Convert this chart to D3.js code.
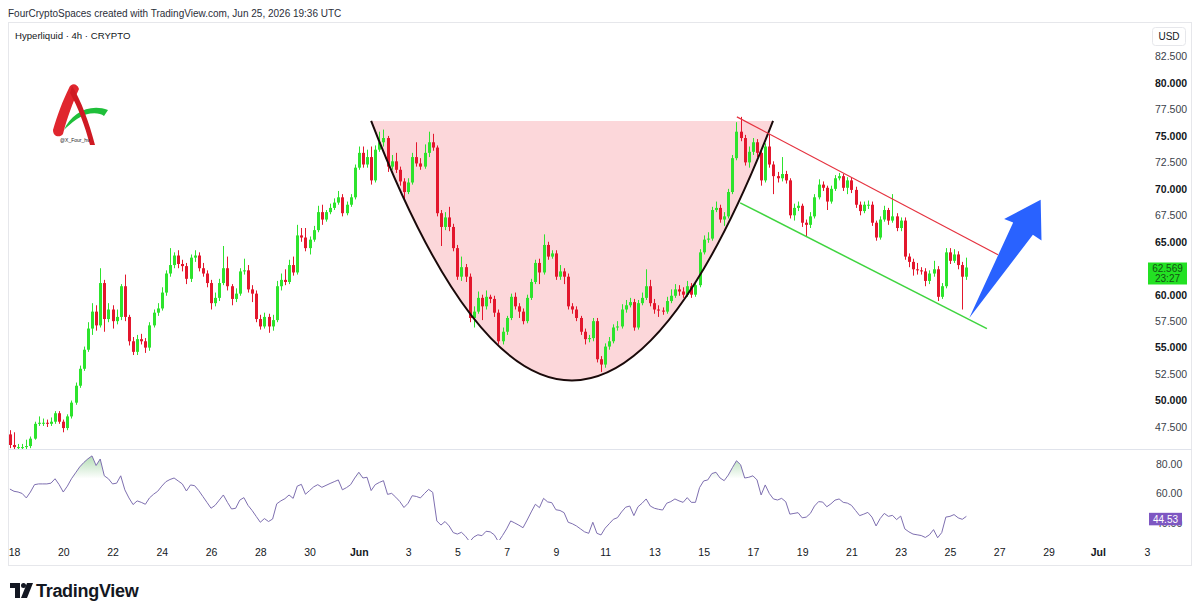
<!DOCTYPE html>
<html>
<head>
<meta charset="utf-8">
<script src="https://cdn.jsdelivr.net/npm/d3@7"></script>
<style>
  body { margin: 0; background: #fff; }
  svg { display: block; font-family: "Liberation Sans", Arial, sans-serif; }
</style>
</head>
<body>
<div id="chart"></div>
<script>
// 4h candles, first bar May 17 20:00 UTC, open = previous close
var firstBar = "2026-05-17T20:00:00Z";
var firstOpen = 46.8;

var closes = [
  45.8,45.6,45.6,45.6,45.7,46.4,47.8,47.9,47.9,47.8,
  48.0,48.8,48.0,47.4,48.5,49.8,51.4,53.0,54.8,56.8,
  58.4,57.1,61.1,57.7,58.6,57.5,57.9,60.8,57.9,55.6,
  54.6,55.8,55.6,55.0,57.1,58.3,58.7,60.2,62.0,62.8,
  63.7,62.9,62.7,61.5,63.5,63.7,62.5,62.0,61.1,59.2,
  59.7,61.1,62.5,60.8,59.6,60.1,62.2,62.3,60.5,60.1,
  57.7,57.0,57.9,57.0,57.6,60.8,61.4,61.2,62.8,62.1,
  65.6,65.4,64.4,65.2,66.1,67.8,67.1,67.8,68.2,68.7,
  69.2,67.7,68.5,69.2,72.0,73.4,72.3,73.0,70.8,73.7,
  74.4,74.8,72.1,72.6,71.8,70.7,69.7,70.6,73.0,72.4,
  72.1,73.4,74.4,73.9,67.7,66.4,67.3,66.4,64.4,61.7,
  62.6,61.7,57.8,58.4,59.7,58.9,59.8,59.6,58.3,55.6,
  56.5,57.8,59.8,58.9,58.4,57.5,59.7,61.2,63.0,62.1,
  64.7,63.6,63.9,61.7,62.2,61.7,58.9,58.6,57.8,56.5,
  55.8,55.9,57.5,53.9,53.4,55.1,55.6,56.9,57.0,58.6,
  59.0,59.3,56.9,59.2,59.7,60.8,59.2,58.6,58.5,58.4,
  59.4,59.9,60.5,60.3,60.0,60.8,60.0,60.9,64.0,65.2,
  65.3,68.0,68.2,67.1,67.4,69.7,72.9,75.4,74.8,72.5,
  73.5,74.4,73.4,70.8,74.0,72.3,71.2,71.0,71.4,70.8,
  67.5,68.2,68.4,66.8,66.6,67.4,69.2,70.4,70.1,68.8,
  70.0,71.0,71.2,70.1,70.8,69.9,68.5,67.9,68.5,68.5,
  66.8,65.4,67.1,68.0,67.0,67.4,66.3,67.0,63.6,63.1,
  62.4,62.3,62.2,61.3,62.0,62.4,59.8,60.8,64.0,63.2,
  63.8,62.8,61.7,62.569
];

var highs = [
  47.2,47.0,45.9,45.9,46.3,46.6,48.0,48.5,48.3,48.2,
  48.4,49.0,49.0,48.2,48.7,50.0,51.7,53.3,55.1,57.4,
  59.2,59.0,62.5,61.4,59.2,59.0,58.6,61.0,61.9,58.1,
  56.0,56.2,56.3,55.9,57.4,58.6,59.2,60.7,62.3,64.4,
  64.0,64.2,63.3,63.0,63.8,64.2,64.0,63.0,62.3,61.4,
  60.2,61.5,64.6,63.6,61.0,60.6,62.5,63.4,62.8,60.9,
  60.4,58.1,58.3,58.2,58.1,61.3,62.0,62.4,63.3,63.6,
  66.6,66.3,66.3,65.5,66.5,68.4,68.5,68.0,68.6,69.1,
  69.8,69.5,68.8,69.5,72.3,74.0,74.0,73.7,74.0,74.1,
  75.4,75.6,75.0,73.2,73.4,72.1,71.0,71.0,73.4,74.4,
  72.9,74.2,75.4,75.2,74.1,68.0,67.8,68.3,66.7,64.7,
  63.6,62.9,62.0,58.9,60.3,60.0,60.4,60.0,59.9,58.6,
  56.9,58.0,60.1,60.2,59.2,58.7,60.0,61.5,63.3,63.4,
  65.7,65.0,64.2,64.2,62.8,62.5,62.0,59.2,58.9,58.0,
  56.8,56.2,57.8,57.8,54.2,55.4,56.0,57.2,57.5,59.1,
  59.5,59.7,59.6,59.5,60.2,62.4,61.4,59.6,59.0,58.8,
  59.8,60.5,61.0,60.9,60.7,61.3,61.1,61.2,64.3,65.6,
  65.9,68.3,68.8,68.5,67.8,70.0,73.2,76.3,76.8,75.1,
  74.0,74.8,74.7,73.7,74.3,75.2,72.6,71.6,73.0,71.7,
  71.0,68.6,68.8,68.6,67.1,67.8,69.5,70.9,70.7,70.3,
  70.3,71.3,71.5,71.4,71.1,71.1,70.2,68.8,68.8,68.9,
  68.8,67.0,67.4,68.4,68.2,69.5,67.7,67.3,67.3,63.9,
  63.4,63.0,62.6,62.5,62.3,63.2,62.7,61.1,64.4,64.4,
  64.3,64.1,63.1,63.5
];

var lows = [
  45.5,45.4,45.4,45.4,45.4,45.5,46.3,47.6,47.6,47.5,
  47.6,47.8,47.8,47.0,47.2,48.3,49.6,51.2,52.8,54.6,
  56.2,56.6,56.9,56.5,57.4,56.8,57.2,57.6,57.5,55.2,
  54.3,54.3,55.3,54.5,54.7,56.9,58.0,58.5,59.9,61.7,
  62.5,62.5,62.2,61.0,61.2,63.1,62.2,61.7,60.7,58.6,
  58.9,59.4,60.9,60.4,59.0,59.3,59.9,61.9,60.2,59.3,
  57.4,56.7,56.8,56.4,56.6,57.4,60.4,60.9,61.0,61.8,
  61.9,65.0,64.1,63.8,65.0,65.9,66.6,66.9,67.6,68.0,
  68.5,67.4,67.5,68.3,69.0,71.8,72.0,72.0,70.4,70.6,
  73.5,74.0,71.6,71.8,71.5,70.3,68.9,69.5,70.4,72.1,
  71.8,71.9,73.0,73.6,67.4,64.6,66.1,66.0,64.1,61.4,
  61.3,61.2,57.4,56.9,58.2,57.6,58.6,59.2,57.9,55.3,
  55.3,56.2,57.6,58.6,57.8,57.2,57.3,59.5,61.0,61.0,
  61.9,63.3,63.4,61.4,61.4,61.0,58.6,58.2,57.5,56.2,
  55.3,55.5,55.6,53.6,52.7,53.1,54.8,55.4,56.6,56.8,
  58.3,58.8,56.6,56.7,59.0,59.5,58.9,58.2,57.9,58.1,
  58.2,59.2,59.7,59.9,59.7,59.8,59.7,59.8,60.7,63.8,
  64.9,65.1,67.8,66.8,66.5,67.2,69.5,72.7,74.5,72.2,
  72.0,73.2,73.0,70.3,70.6,72.0,69.5,70.6,70.7,70.5,
  67.2,67.0,67.9,66.4,65.5,66.3,67.2,69.0,69.8,68.0,
  68.6,69.8,70.8,69.8,69.5,69.6,68.2,67.5,67.7,68.1,
  66.5,65.1,65.2,66.9,66.6,66.8,66.0,66.0,63.3,62.6,
  61.8,61.9,61.9,60.8,61.0,61.7,59.4,59.6,60.6,62.9,
  63.0,62.4,58.6,61.4
];

var rsiValues = [
  63,61.5,61,60,57,61,66,66.5,66.5,66.5,
  67,70,66,61,65,70,74,78,81,83.5,
  85.5,79,83.4,72,70,66.5,67,72,62.5,57,
  52.5,55,54,52.7,57,59.5,61.5,65,68,69.5,
  70.5,68.5,66.5,61.7,65.8,65.3,62,58,54,50,
  52,55.5,59,54,49.5,50,55.5,57.2,52,48.5,
  44.5,40.5,43,41,42.7,53,55,56.5,59,56.7,
  65,66.2,59.5,62,64.5,66,64.2,65.5,66.8,68,
  69.2,62.5,64,66,70.5,74.4,70.5,71,62,66,
  67.5,68.7,59.4,60.1,57.5,54.5,50.5,53.4,58.5,58,
  57,60,62.8,60.8,41.4,38.6,41,38,33.5,32.5,
  33.7,31,27.3,30.5,32,31.4,34.4,34,32,27.3,
  31.5,36,41.4,40,38.5,36.8,42,47.5,52.7,50.4,
  56.7,54.3,53.8,49,48.5,47,40.5,39.5,38,36,
  34,33,40.5,33,31.9,36.5,39.5,42.5,43.6,47.5,
  50.7,51.5,45,51,53.4,56.3,51.5,50,49.3,48.8,
  53.4,54.5,56.3,55,54,57.2,54,54,64,68.5,
  69.2,73.5,74.4,70.5,68.7,72.5,77.5,82.2,79.5,70.5,
  71,72,69.2,59,65.8,60,56.3,55.6,56.7,54.4,
  46,46.5,47,43.5,44,46.5,51.5,54.5,54.2,51,
  53,55.5,56.3,54,53.5,52,48.5,45,46,47.2,
  44,38,43,46.5,44.5,45.2,42.3,44.7,36,34,
  32.5,32,31.5,30.2,32,35.5,30,33.5,44,44.5,
  45.7,43.5,42.5,44.5
];

var priceTicks = [82.5, 80, 77.5, 75, 72.5, 70, 67.5, 65, 60, 57.5, 55, 52.5, 50, 47.5];
var rsiTicks = [80, 60, 40];
var dateTicks = [
  "2026-05-18","2026-05-20","2026-05-22","2026-05-24","2026-05-26","2026-05-28","2026-05-30",
  "2026-06-01","2026-06-03","2026-06-05","2026-06-07","2026-06-09","2026-06-11","2026-06-13",
  "2026-06-15","2026-06-17","2026-06-19","2026-06-21","2026-06-23","2026-06-25","2026-06-27",
  "2026-06-29","2026-07-01","2026-07-03"
];
var lastPrice = 62.569;
var countdown = "23:27";
var lastRsi = 44.53;

// drawings, as [bar index, price]
var cupPoints = [[88.0, 76.42], [136.9, 51.9], [185.9, 76.42]];
var resistanceLine = [[177.1, 76.8], [240.7, 63.77]];
var supportLine = [[177.9, 68.68], [238.0, 56.79]];
var arrowPoints = [[233.7, 57.8], [249.2, 65.66], [251.3, 65.12], [251.1, 68.96], [242.2, 67.14], [244.4, 66.82]];

var W = 1200, H = 615;
var paneLeft = 8, paneRight = 1145;
var priceTop = 22, priceBottom = 449, rsiBottom = 540;

var svg = d3.select("#chart").append("svg")
  .attr("width", W)
  .attr("height", H);

var defs = svg.append("defs");
defs.append("clipPath").attr("id", "clipPrice")
  .append("rect").attr("x", paneLeft).attr("y", priceTop).attr("width", paneRight - paneLeft).attr("height", priceBottom - priceTop);
defs.append("clipPath").attr("id", "clipRsi")
  .append("rect").attr("x", paneLeft).attr("y", priceBottom + 1).attr("width", paneRight - paneLeft).attr("height", rsiBottom - priceBottom - 1);

// Scales
var x = d3.scaleUtc()
  .domain([new Date("2026-05-18T00:00:00Z"), new Date("2026-07-03T00:00:00Z")])
  .range([14, 1147]);
var y = d3.scaleLinear().domain([47.5, 80]).range([427, 83]);
var yR = d3.scaleLinear().domain([40, 80]).range([523, 464]);

var t0 = new Date(firstBar).getTime();
function barTime(i) {
  return new Date(t0 + i * 4 * 3600 * 1000);
}
function px(p) { return [x(barTime(p[0])), y(p[1])]; }

// Header
svg.append("text")
  .attr("x", 8).attr("y", 17)
  .attr("font-size", "10px").attr("fill", "#2a2e39")
  .text("FourCryptoSpaces created with TradingView.com, Jun 25, 2026 19:36 UTC");

// Panel frame
svg.append("rect")
  .attr("x", 8.5).attr("y", 22.5).attr("width", 1183).attr("height", 543)
  .attr("fill", "none").attr("stroke", "#e6e7eb");
svg.append("line")
  .attr("x1", 8).attr("x2", 1192).attr("y1", priceBottom + 0.5).attr("y2", priceBottom + 0.5)
  .attr("stroke", "#e0e3eb");

svg.append("text")
  .attr("x", 15).attr("y", 39)
  .attr("font-size", "9.6px").attr("fill", "#131722")
  .text("Hyperliquid · 4h · CRYPTO");

// Logo watermark
var logo = svg.append("g");
logo.append("path")
  .attr("d", "M64,130 C71,113 90,103 108,110 L104,116 C99,112 87,112 77,119 C71,123 67,127 64,130 Z")
  .attr("fill", "#1fbf3a");
logo.append("path")
  .attr("d", "M53,130 C57,116 63,100 69,88 C71,83 77,83 79,89 C73,102 67,118 63,134 C60,138 53,137 53,130 Z")
  .attr("fill", "#e0262e");
logo.append("path")
  .attr("d", "M72,86 C81,100 89,122 95,145 L90,145 C85,126 78,107 70,93 Z")
  .attr("fill", "#cf1a23");
logo.append("text")
  .attr("x", 60).attr("y", 142)
  .attr("font-size", "5px").attr("fill", "#222")
  .text("@X_Four_hv");

// Cup drawing
var gPrice = svg.append("g").attr("clip-path", "url(#clipPrice)");
var c0 = px(cupPoints[0]), cb = px(cupPoints[1]), c2 = px(cupPoints[2]);
var ctrl = [2 * cb[0] - (c0[0] + c2[0]) / 2, 2 * cb[1] - (c0[1] + c2[1]) / 2];
var cupPath = d3.path();
cupPath.moveTo(c0[0], c0[1]);
cupPath.quadraticCurveTo(ctrl[0], ctrl[1], c2[0], c2[1]);

gPrice.append("path")
  .attr("d", cupPath.toString() + "Z")
  .attr("fill", "rgba(242,54,69,0.2)");

// Candles
var candles = closes.map(function(c, i) {
  return {
    t: barTime(i),
    o: i === 0 ? firstOpen : closes[i - 1],
    c: c,
    h: highs[i],
    l: lows[i]
  };
});

var up = "#2de32d", down = "#e3172d";

gPrice.selectAll(".wick")
  .data(candles)
  .enter()
  .append("line")
  .attr("x1", function(d) { return Math.round(x(d.t)) + 0.5; })
  .attr("x2", function(d) { return Math.round(x(d.t)) + 0.5; })
  .attr("y1", function(d) { return y(d.h); })
  .attr("y2", function(d) { return y(d.l); })
  .attr("stroke", function(d) { return d.c >= d.o ? up : down; })
  .attr("stroke-width", 1);

gPrice.selectAll(".body")
  .data(candles)
  .enter()
  .append("rect")
  .attr("x", function(d) { return Math.round(x(d.t)) - 1; })
  .attr("y", function(d) { return y(Math.max(d.o, d.c)); })
  .attr("width", 3)
  .attr("height", function(d) { return Math.max(1, Math.abs(y(d.o) - y(d.c))); })
  .attr("fill", function(d) { return d.c >= d.o ? up : down; });

// Cup outline
gPrice.append("path")
  .attr("d", cupPath.toString())
  .attr("fill", "none")
  .attr("stroke", "#1a0a0a")
  .attr("stroke-width", 2);

// Channel
var line = d3.line().x(function(p) { return px(p)[0]; }).y(function(p) { return px(p)[1]; });
gPrice.append("path")
  .attr("d", line(resistanceLine))
  .attr("fill", "none").attr("stroke", "#e5323f").attr("stroke-width", 1.2);
gPrice.append("path")
  .attr("d", line(supportLine))
  .attr("fill", "none").attr("stroke", "#3fd43f").attr("stroke-width", 1.5);

// Arrow
gPrice.append("path")
  .attr("d", line(arrowPoints) + "Z")
  .attr("fill", "#2962ff");

// RSI pane
var gRsi = svg.append("g").attr("clip-path", "url(#clipRsi)");
var grad = defs.append("linearGradient").attr("id", "obFill")
  .attr("gradientUnits", "userSpaceOnUse")
  .attr("x1", 0).attr("x2", 0).attr("y1", yR(90)).attr("y2", yR(70));
grad.append("stop").attr("offset", 0).attr("stop-color", "#4caf50").attr("stop-opacity", 0.55);
grad.append("stop").attr("offset", 1).attr("stop-color", "#4caf50").attr("stop-opacity", 0);
defs.append("clipPath").attr("id", "clipOb")
  .append("rect").attr("x", paneLeft).attr("y", priceBottom).attr("width", paneRight - paneLeft).attr("height", yR(70) - priceBottom);

var rsiArea = d3.area()
  .x(function(d, i) { return x(barTime(i)); })
  .y0(yR(70))
  .y1(function(d) { return yR(d); });
gRsi.append("g").attr("clip-path", "url(#clipOb)")
  .append("path")
  .attr("d", rsiArea(rsiValues))
  .attr("fill", "url(#obFill)");

var rsiLine = d3.line()
  .x(function(d, i) { return x(barTime(i)); })
  .y(function(d) { return yR(d); });
gRsi.append("path")
  .attr("d", rsiLine(rsiValues))
  .attr("fill", "none")
  .attr("stroke", "#7e6fb0")
  .attr("stroke-width", 1);

// Price axis
var priceAxis = d3.axisRight(y)
  .tickValues(priceTicks)
  .tickFormat(d3.format(".3f"))
  .tickSize(0)
  .tickPadding(0);
var gPA = svg.append("g")
  .attr("transform", "translate(1155,0)")
  .call(priceAxis);
gPA.select(".domain").remove();
gPA.selectAll("text")
  .attr("font-family", "'Liberation Sans', Arial, sans-serif")
  .attr("font-size", "10.5px")
  .attr("fill", function(d) { return d % 5 === 0 ? "#131722" : "#3b3f4a"; })
  .attr("font-weight", function(d) { return d % 5 === 0 ? "bold" : "normal"; });

// USD box
svg.append("rect")
  .attr("x", 1152.5).attr("y", 27.5).attr("width", 33).attr("height", 18).attr("rx", 3)
  .attr("fill", "#fff").attr("stroke", "#e6e7eb");
svg.append("text")
  .attr("x", 1169).attr("y", 40).attr("text-anchor", "middle")
  .attr("font-size", "10px").attr("fill", "#131722")
  .text("USD");

// Last price label
var yp = y(lastPrice);
svg.append("rect")
  .attr("x", 1148).attr("y", yp - 5).attr("width", 39).attr("height", 22)
  .attr("fill", "#23e123");
svg.append("text")
  .attr("x", 1167.5).attr("y", yp + 4.5).attr("text-anchor", "middle")
  .attr("font-size", "10px").attr("fill", "#145214")
  .text(d3.format(".3f")(lastPrice));
svg.append("text")
  .attr("x", 1167.5).attr("y", yp + 14.5).attr("text-anchor", "middle")
  .attr("font-size", "10px").attr("fill", "#145214")
  .text(countdown);

// RSI axis (the last-value tag covers the 40.00 label, as on TradingView)
var rsiAxis = d3.axisRight(yR)
  .tickValues(rsiTicks)
  .tickFormat(d3.format(".2f"))
  .tickSize(0)
  .tickPadding(0);
var gRA = svg.append("g")
  .attr("transform", "translate(1156,0)")
  .call(rsiAxis);
gRA.select(".domain").remove();
gRA.selectAll("text")
  .attr("font-family", "'Liberation Sans', Arial, sans-serif")
  .attr("font-size", "10.5px")
  .attr("fill", "#3b3f4a");

var yr = yR(lastRsi);
svg.append("rect")
  .attr("x", 1149).attr("y", yr - 3.5).attr("width", 33).attr("height", 12.5)
  .attr("fill", "#7e57c2");
svg.append("text")
  .attr("x", 1165.5).attr("y", yr + 6.5).attr("text-anchor", "middle")
  .attr("font-size", "10px").attr("fill", "#fff")
  .text(d3.format(".2f")(lastRsi));

// Time axis
var monthFmt = d3.utcFormat("%b");
var timeAxis = d3.axisBottom(x)
  .tickValues(dateTicks.map(function(s) { return new Date(s + "T00:00:00Z"); }))
  .tickFormat(function(d) { return d.getUTCDate() === 1 ? monthFmt(d) : d.getUTCDate(); })
  .tickSize(0)
  .tickPadding(4);
var gTA = svg.append("g")
  .attr("transform", "translate(0,545)")
  .call(timeAxis);
gTA.select(".domain").remove();
gTA.selectAll("text")
  .attr("font-family", "'Liberation Sans', Arial, sans-serif")
  .attr("font-size", "10.5px")
  .attr("fill", "#131722")
  .attr("font-weight", function(d) { return d.getUTCDate() === 1 ? "bold" : "normal"; });

// TradingView footer
var tv = svg.append("g").attr("fill", "#131722");
tv.append("path").attr("d", "M10,583 H20 V598 H15 V588 H10 Z");
tv.append("circle").attr("cx", 23.5).attr("cy", 585.5).attr("r", 2.5);
tv.append("path").attr("d", "M27,583 H33 L27,598 H21 Z");
tv.append("text")
  .attr("x", 36).attr("y", 597)
  .attr("font-size", "18px").attr("font-weight", "bold")
  .attr("letter-spacing", "-0.3")
  .text("TradingView");
</script>
</body>
</html>
